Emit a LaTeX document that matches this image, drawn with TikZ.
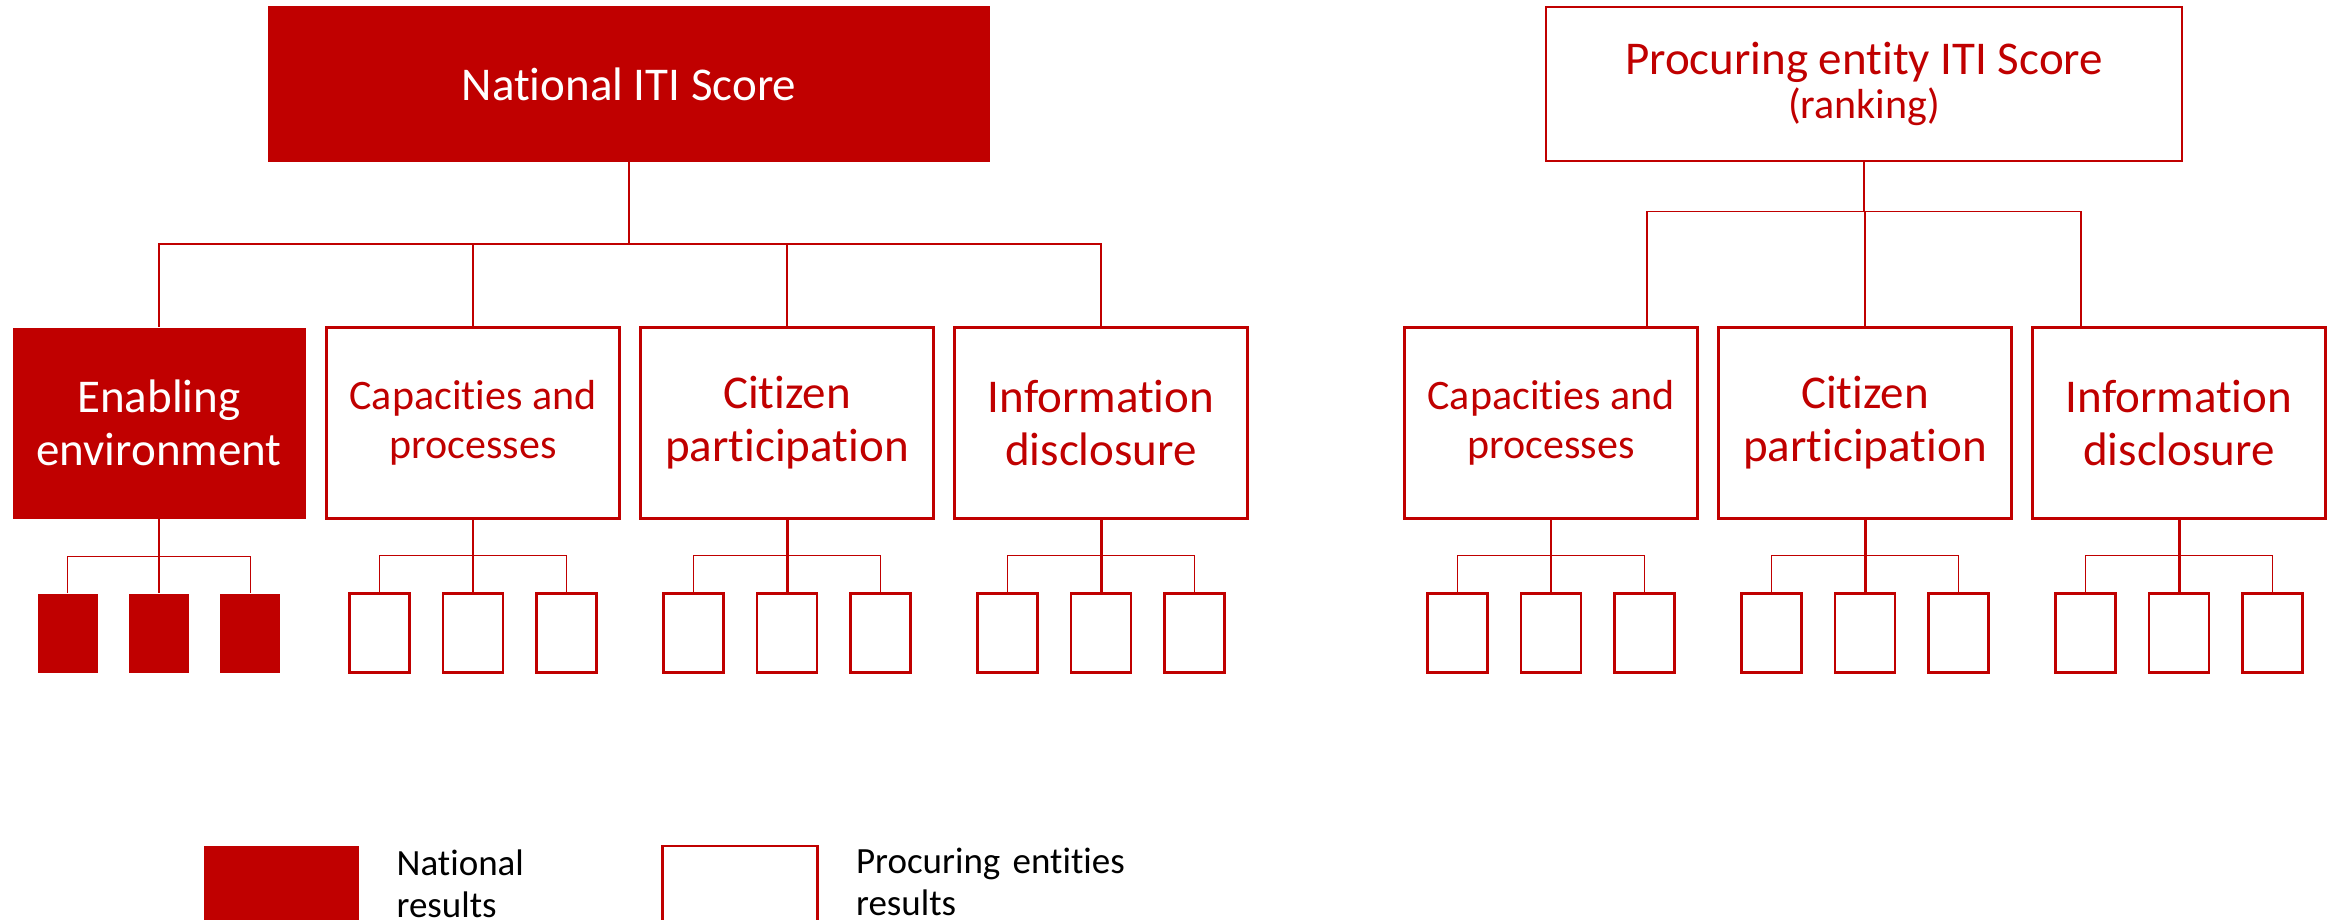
\documentclass[tikz,border=0pt]{standalone}
\usepackage{fontspec}
\setmainfont{Carlito}[RawFeature={-liga;-clig;-dlig;-calt;-rlig}]
\usetikzlibrary{shapes,arrows,positioning}
\definecolor{itired}{RGB}{192,0,0}
\tikzstyle{scorebox} = [rectangle, minimum width=722pt, minimum height=156pt, align=center, inner sep=0pt]
\tikzstyle{nationalscore} = [scorebox, fill=itired, text=white, font=\fontsize{47}{54}\selectfont]
\tikzstyle{entityscore} = [scorebox, minimum width=636pt, minimum height=154pt, draw=itired, line width=2.5pt, text=itired, font=\fontsize{47}{44}\selectfont]
\tikzstyle{pillar} = [rectangle, minimum width=293pt, minimum height=191pt, align=center, inner sep=0pt, font=\fontsize{47}{53}\selectfont]
\tikzstyle{natpillar} = [pillar, fill=itired, text=white]
\tikzstyle{entpillar} = [pillar, draw=itired, line width=2.5pt, text=itired]
\tikzstyle{leaf} = [rectangle, minimum width=60pt, minimum height=79pt, inner sep=0pt]
\tikzstyle{natleaf} = [leaf, fill=itired]
\tikzstyle{entleaf} = [leaf, draw=itired, line width=2.5pt]
\tikzstyle{link} = [draw=itired, line width=1.5pt]
\tikzstyle{legendtext} = [text width=320pt, align=left, inner sep=0pt, font=\fontsize{37}{42}\selectfont]

\begin{document}
\begin{tikzpicture}[x=1pt, y=1pt, node distance=314pt]
\useasboundingbox (0,0) rectangle (2331,-919);

% national side
\node [nationalscore] (national) at (629,-84) {National ITI Score};
\node [natpillar, below of=national, xshift=-470pt, yshift=-25pt] (enabling) {Enabling\\environment};
\node [entpillar, right of=enabling, font=\fontsize{42}{49}\selectfont] (capacities) {Capacities and\\processes};
\node [entpillar, right of=capacities] (citizen) {Citizen\\participation};
\node [entpillar, right of=citizen] (disclosure) {Information\\disclosure};

% procuring entity side
\node [entityscore] (procuring) at (1864,-84) {Procuring entity ITI Score\\{\fontsize{42}{44}\selectfont(ranking)}};
\node [entpillar, below of=procuring, xshift=-313pt, yshift=-25pt, font=\fontsize{42}{49}\selectfont] (pcapacities) {Capacities and\\processes};
\node [entpillar, right of=pcapacities] (pcitizen) {Citizen\\participation};
\node [entpillar, right of=pcitizen] (pdisclosure) {Information\\disclosure};

\draw [link] (national.south) -- ++(0,-82) coordinate (natbus);
\draw [link] (natbus) -| (enabling.north);
\draw [link] (natbus) -| (capacities.north);
\draw [link] (natbus) -| (citizen.north);
\draw [link] (natbus) -| (disclosure.north);

\draw [link] (procuring.south) -- ++(0,-49) coordinate (entbus);
\draw [link] (entbus) -| ([xshift=96pt]pcapacities.north);
\draw [link] (entbus) -| (pcitizen.north);
\draw [link] (entbus) -| ([xshift=-98pt]pdisclosure.north);

% indicators
\foreach \p/\s/\w in {enabling/natleaf/1.5, capacities/entleaf/1.5, citizen/entleaf/3, disclosure/entleaf/3, pcapacities/entleaf/1.5, pcitizen/entleaf/3, pdisclosure/entleaf/3} {
  \node [\s, below of=\p, yshift=104pt] (\p-2) {};
  \node [\s, left=31pt of \p-2] (\p-1) {};
  \node [\s, right=31pt of \p-2] (\p-3) {};
  \draw [link, line width=\w] (\p.south) -- (\p-2.north);
  \draw [link] (\p-1.north) -- ++(0,37) -| (\p-3.north);
}

% legend
\node [natleaf, minimum width=155pt, minimum height=78pt, anchor=north west] (natkey) at (204,-846) {};
\node [entleaf, minimum width=155pt, minimum height=78pt, right=302pt of natkey] (entkey) {};
\node [legendtext, anchor=base west] (natkeytext) at ([xshift=37pt, yshift=-29pt]natkey.north east) {National\\results};
\node [legendtext, anchor=base west] (entkeytext) at ([xshift=37pt, yshift=-29pt]entkey.north east) {Procuring entities\\results};

\end{tikzpicture}
\end{document}
